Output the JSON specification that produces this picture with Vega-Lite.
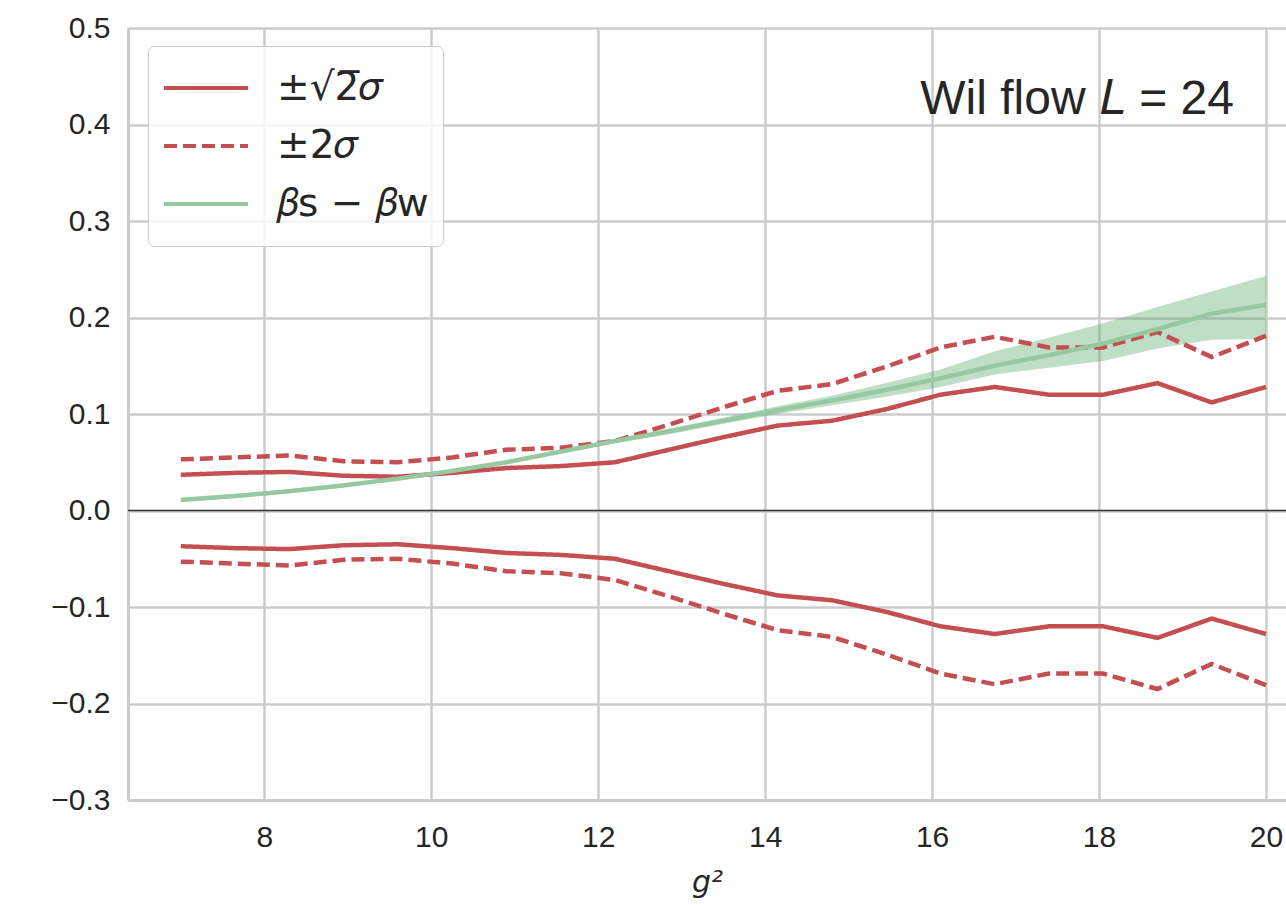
{
  "$schema": "https://vega.github.io/schema/vega-lite/v6.json",
  "width": 1158,
  "height": 772,
  "autosize": {"type": "none"},
  "padding": {"left": 128, "top": 28, "right": 0, "bottom": 105},
  "background": "white",
  "config": {
    "view": {"stroke": null},
    "font": "Liberation Sans",
    "axis": {
      "gridColor": "#cccccc",
      "gridWidth": 2.5,
      "domainColor": "#cccccc",
      "domainWidth": 3,
      "ticks": false,
      "tickSize": 0,
      "labelFont": "Liberation Sans",
      "labelFontSize": 30,
      "labelColor": "#262626",
      "titleColor": "#262626"
    },
    "legend": {
      "orient": "none",
      "legendX": 20,
      "legendY": 18,
      "padding": 14,
      "fillColor": "rgba(255,255,255,0.8)",
      "strokeColor": "#cccccc",
      "cornerRadius": 6,
      "symbolType": "stroke",
      "symbolSize": 7056,
      "symbolStrokeWidth": 4,
      "clipHeight": 56,
      "labelFont": "DejaVu Sans",
      "labelFontSize": 39,
      "labelColor": "#262626",
      "labelOffset": 27,
      "labelLimit": 500,
      "rowPadding": 2
    }
  },
  "datasets": {
    "lines": [
      {"g2": 7.0, "v": 0.037, "series": "±√2̅𝜎", "branch": "up"},
      {"g2": 7.65, "v": 0.039, "series": "±√2̅𝜎", "branch": "up"},
      {"g2": 8.3, "v": 0.040, "series": "±√2̅𝜎", "branch": "up"},
      {"g2": 8.95, "v": 0.036, "series": "±√2̅𝜎", "branch": "up"},
      {"g2": 9.6, "v": 0.035, "series": "±√2̅𝜎", "branch": "up"},
      {"g2": 10.25, "v": 0.039, "series": "±√2̅𝜎", "branch": "up"},
      {"g2": 10.9, "v": 0.044, "series": "±√2̅𝜎", "branch": "up"},
      {"g2": 11.55, "v": 0.046, "series": "±√2̅𝜎", "branch": "up"},
      {"g2": 12.2, "v": 0.050, "series": "±√2̅𝜎", "branch": "up"},
      {"g2": 12.85, "v": 0.063, "series": "±√2̅𝜎", "branch": "up"},
      {"g2": 13.5, "v": 0.076, "series": "±√2̅𝜎", "branch": "up"},
      {"g2": 14.15, "v": 0.088, "series": "±√2̅𝜎", "branch": "up"},
      {"g2": 14.8, "v": 0.093, "series": "±√2̅𝜎", "branch": "up"},
      {"g2": 15.45, "v": 0.105, "series": "±√2̅𝜎", "branch": "up"},
      {"g2": 16.1, "v": 0.120, "series": "±√2̅𝜎", "branch": "up"},
      {"g2": 16.75, "v": 0.128, "series": "±√2̅𝜎", "branch": "up"},
      {"g2": 17.4, "v": 0.120, "series": "±√2̅𝜎", "branch": "up"},
      {"g2": 18.05, "v": 0.120, "series": "±√2̅𝜎", "branch": "up"},
      {"g2": 18.7, "v": 0.132, "series": "±√2̅𝜎", "branch": "up"},
      {"g2": 19.35, "v": 0.112, "series": "±√2̅𝜎", "branch": "up"},
      {"g2": 20.0, "v": 0.128, "series": "±√2̅𝜎", "branch": "up"},
      {"g2": 7.0, "v": -0.037, "series": "±√2̅𝜎", "branch": "down"},
      {"g2": 7.65, "v": -0.039, "series": "±√2̅𝜎", "branch": "down"},
      {"g2": 8.3, "v": -0.040, "series": "±√2̅𝜎", "branch": "down"},
      {"g2": 8.95, "v": -0.036, "series": "±√2̅𝜎", "branch": "down"},
      {"g2": 9.6, "v": -0.035, "series": "±√2̅𝜎", "branch": "down"},
      {"g2": 10.25, "v": -0.039, "series": "±√2̅𝜎", "branch": "down"},
      {"g2": 10.9, "v": -0.044, "series": "±√2̅𝜎", "branch": "down"},
      {"g2": 11.55, "v": -0.046, "series": "±√2̅𝜎", "branch": "down"},
      {"g2": 12.2, "v": -0.050, "series": "±√2̅𝜎", "branch": "down"},
      {"g2": 12.85, "v": -0.063, "series": "±√2̅𝜎", "branch": "down"},
      {"g2": 13.5, "v": -0.076, "series": "±√2̅𝜎", "branch": "down"},
      {"g2": 14.15, "v": -0.088, "series": "±√2̅𝜎", "branch": "down"},
      {"g2": 14.8, "v": -0.093, "series": "±√2̅𝜎", "branch": "down"},
      {"g2": 15.45, "v": -0.105, "series": "±√2̅𝜎", "branch": "down"},
      {"g2": 16.1, "v": -0.120, "series": "±√2̅𝜎", "branch": "down"},
      {"g2": 16.75, "v": -0.128, "series": "±√2̅𝜎", "branch": "down"},
      {"g2": 17.4, "v": -0.120, "series": "±√2̅𝜎", "branch": "down"},
      {"g2": 18.05, "v": -0.120, "series": "±√2̅𝜎", "branch": "down"},
      {"g2": 18.7, "v": -0.132, "series": "±√2̅𝜎", "branch": "down"},
      {"g2": 19.35, "v": -0.112, "series": "±√2̅𝜎", "branch": "down"},
      {"g2": 20.0, "v": -0.128, "series": "±√2̅𝜎", "branch": "down"},
      {"g2": 7.0, "v": 0.053, "series": "±2𝜎", "branch": "up"},
      {"g2": 7.65, "v": 0.055, "series": "±2𝜎", "branch": "up"},
      {"g2": 8.3, "v": 0.057, "series": "±2𝜎", "branch": "up"},
      {"g2": 8.95, "v": 0.051, "series": "±2𝜎", "branch": "up"},
      {"g2": 9.6, "v": 0.050, "series": "±2𝜎", "branch": "up"},
      {"g2": 10.25, "v": 0.055, "series": "±2𝜎", "branch": "up"},
      {"g2": 10.9, "v": 0.063, "series": "±2𝜎", "branch": "up"},
      {"g2": 11.55, "v": 0.065, "series": "±2𝜎", "branch": "up"},
      {"g2": 12.2, "v": 0.072, "series": "±2𝜎", "branch": "up"},
      {"g2": 12.85, "v": 0.089, "series": "±2𝜎", "branch": "up"},
      {"g2": 13.5, "v": 0.107, "series": "±2𝜎", "branch": "up"},
      {"g2": 14.15, "v": 0.124, "series": "±2𝜎", "branch": "up"},
      {"g2": 14.8, "v": 0.131, "series": "±2𝜎", "branch": "up"},
      {"g2": 15.45, "v": 0.149, "series": "±2𝜎", "branch": "up"},
      {"g2": 16.1, "v": 0.169, "series": "±2𝜎", "branch": "up"},
      {"g2": 16.75, "v": 0.180, "series": "±2𝜎", "branch": "up"},
      {"g2": 17.4, "v": 0.169, "series": "±2𝜎", "branch": "up"},
      {"g2": 18.05, "v": 0.169, "series": "±2𝜎", "branch": "up"},
      {"g2": 18.7, "v": 0.185, "series": "±2𝜎", "branch": "up"},
      {"g2": 19.35, "v": 0.159, "series": "±2𝜎", "branch": "up"},
      {"g2": 20.0, "v": 0.181, "series": "±2𝜎", "branch": "up"},
      {"g2": 7.0, "v": -0.053, "series": "±2𝜎", "branch": "down"},
      {"g2": 7.65, "v": -0.055, "series": "±2𝜎", "branch": "down"},
      {"g2": 8.3, "v": -0.057, "series": "±2𝜎", "branch": "down"},
      {"g2": 8.95, "v": -0.051, "series": "±2𝜎", "branch": "down"},
      {"g2": 9.6, "v": -0.050, "series": "±2𝜎", "branch": "down"},
      {"g2": 10.25, "v": -0.055, "series": "±2𝜎", "branch": "down"},
      {"g2": 10.9, "v": -0.063, "series": "±2𝜎", "branch": "down"},
      {"g2": 11.55, "v": -0.065, "series": "±2𝜎", "branch": "down"},
      {"g2": 12.2, "v": -0.072, "series": "±2𝜎", "branch": "down"},
      {"g2": 12.85, "v": -0.089, "series": "±2𝜎", "branch": "down"},
      {"g2": 13.5, "v": -0.107, "series": "±2𝜎", "branch": "down"},
      {"g2": 14.15, "v": -0.124, "series": "±2𝜎", "branch": "down"},
      {"g2": 14.8, "v": -0.131, "series": "±2𝜎", "branch": "down"},
      {"g2": 15.45, "v": -0.149, "series": "±2𝜎", "branch": "down"},
      {"g2": 16.1, "v": -0.169, "series": "±2𝜎", "branch": "down"},
      {"g2": 16.75, "v": -0.180, "series": "±2𝜎", "branch": "down"},
      {"g2": 17.4, "v": -0.169, "series": "±2𝜎", "branch": "down"},
      {"g2": 18.05, "v": -0.169, "series": "±2𝜎", "branch": "down"},
      {"g2": 18.7, "v": -0.185, "series": "±2𝜎", "branch": "down"},
      {"g2": 19.35, "v": -0.159, "series": "±2𝜎", "branch": "down"},
      {"g2": 20.0, "v": -0.181, "series": "±2𝜎", "branch": "down"},
      {"g2": 7.0, "v": 0.011, "series": "𝛽ꜱ − 𝛽ᴡ", "branch": "mid"},
      {"g2": 7.65, "v": 0.015, "series": "𝛽ꜱ − 𝛽ᴡ", "branch": "mid"},
      {"g2": 8.3, "v": 0.020, "series": "𝛽ꜱ − 𝛽ᴡ", "branch": "mid"},
      {"g2": 8.95, "v": 0.026, "series": "𝛽ꜱ − 𝛽ᴡ", "branch": "mid"},
      {"g2": 9.6, "v": 0.033, "series": "𝛽ꜱ − 𝛽ᴡ", "branch": "mid"},
      {"g2": 10.25, "v": 0.041, "series": "𝛽ꜱ − 𝛽ᴡ", "branch": "mid"},
      {"g2": 10.9, "v": 0.050, "series": "𝛽ꜱ − 𝛽ᴡ", "branch": "mid"},
      {"g2": 11.55, "v": 0.061, "series": "𝛽ꜱ − 𝛽ᴡ", "branch": "mid"},
      {"g2": 12.2, "v": 0.072, "series": "𝛽ꜱ − 𝛽ᴡ", "branch": "mid"},
      {"g2": 12.85, "v": 0.082, "series": "𝛽ꜱ − 𝛽ᴡ", "branch": "mid"},
      {"g2": 13.5, "v": 0.093, "series": "𝛽ꜱ − 𝛽ᴡ", "branch": "mid"},
      {"g2": 14.15, "v": 0.104, "series": "𝛽ꜱ − 𝛽ᴡ", "branch": "mid"},
      {"g2": 14.8, "v": 0.114, "series": "𝛽ꜱ − 𝛽ᴡ", "branch": "mid"},
      {"g2": 15.45, "v": 0.125, "series": "𝛽ꜱ − 𝛽ᴡ", "branch": "mid"},
      {"g2": 16.1, "v": 0.137, "series": "𝛽ꜱ − 𝛽ᴡ", "branch": "mid"},
      {"g2": 16.75, "v": 0.150, "series": "𝛽ꜱ − 𝛽ᴡ", "branch": "mid"},
      {"g2": 17.4, "v": 0.161, "series": "𝛽ꜱ − 𝛽ᴡ", "branch": "mid"},
      {"g2": 18.05, "v": 0.173, "series": "𝛽ꜱ − 𝛽ᴡ", "branch": "mid"},
      {"g2": 18.7, "v": 0.188, "series": "𝛽ꜱ − 𝛽ᴡ", "branch": "mid"},
      {"g2": 19.35, "v": 0.204, "series": "𝛽ꜱ − 𝛽ᴡ", "branch": "mid"},
      {"g2": 20.0, "v": 0.213, "series": "𝛽ꜱ − 𝛽ᴡ", "branch": "mid"}
    ],
    "band": [
      {"g2": 7.0, "lo": 0.009, "hi": 0.013},
      {"g2": 7.65, "lo": 0.013, "hi": 0.017},
      {"g2": 8.3, "lo": 0.018, "hi": 0.022},
      {"g2": 8.95, "lo": 0.024, "hi": 0.028},
      {"g2": 9.6, "lo": 0.031, "hi": 0.035},
      {"g2": 10.25, "lo": 0.039, "hi": 0.043},
      {"g2": 10.9, "lo": 0.048, "hi": 0.052},
      {"g2": 11.55, "lo": 0.059, "hi": 0.063},
      {"g2": 12.2, "lo": 0.070, "hi": 0.074},
      {"g2": 12.85, "lo": 0.079, "hi": 0.085},
      {"g2": 13.5, "lo": 0.090, "hi": 0.096},
      {"g2": 14.15, "lo": 0.100, "hi": 0.108},
      {"g2": 14.8, "lo": 0.109, "hi": 0.119},
      {"g2": 15.45, "lo": 0.118, "hi": 0.132},
      {"g2": 16.1, "lo": 0.128, "hi": 0.146},
      {"g2": 16.75, "lo": 0.141, "hi": 0.165},
      {"g2": 17.4, "lo": 0.148, "hi": 0.179},
      {"g2": 18.05, "lo": 0.155, "hi": 0.194},
      {"g2": 18.7, "lo": 0.168, "hi": 0.211},
      {"g2": 19.35, "lo": 0.177, "hi": 0.227},
      {"g2": 20.0, "lo": 0.178, "hi": 0.243}
    ],
    "one": [{"label": "Wil flow 𝐿 = 24"}]
  },
  "layer": [
    {
      "data": {"name": "band"},
      "mark": {"type": "area", "color": "#55A868", "opacity": 0.38, "clip": true},
      "encoding": {
        "x": {
          "field": "g2",
          "type": "quantitative",
          "scale": {"domain": [6.367, 20.24], "nice": false, "zero": false},
          "axis": {
            "title": "g²",
            "titleFont": "DejaVu Sans",
            "titleFontStyle": "italic",
            "titleFontWeight": "normal",
            "titleFontSize": 30,
            "titlePadding": 15,
            "values": [8, 10, 12, 14, 16, 18, 20],
            "format": "d",
            "labelPadding": 22,
            "grid": true
          }
        },
        "y": {
          "field": "lo",
          "type": "quantitative",
          "scale": {"domain": [-0.3, 0.5], "nice": false, "zero": false},
          "axis": {
            "title": null,
            "values": [-0.3, -0.2, -0.1, 0, 0.1, 0.2, 0.3, 0.4, 0.5],
            "labelExpr": "replace(format(datum.value, '.1f'), '-', '−')",
            "labelPadding": 18,
            "grid": true
          }
        },
        "y2": {"field": "hi"}
      }
    },
    {
      "data": {"name": "one"},
      "mark": {"type": "rule", "color": "#333333", "strokeWidth": 1.5},
      "encoding": {"y": {"datum": 0}}
    },
    {
      "data": {"name": "lines"},
      "mark": {"type": "line", "strokeWidth": 4.5, "clip": true},
      "encoding": {
        "x": {"field": "g2", "type": "quantitative"},
        "y": {"field": "v", "type": "quantitative"},
        "color": {
          "field": "series",
          "type": "nominal",
          "scale": {"domain": ["±√2̅𝜎", "±2𝜎", "𝛽ꜱ − 𝛽ᴡ"], "range": ["#C44E52", "#C44E52", "#96c9a1"]},
          "legend": {"title": null}
        },
        "strokeDash": {
          "field": "series",
          "type": "nominal",
          "scale": {"domain": ["±√2̅𝜎", "±2𝜎", "𝛽ꜱ − 𝛽ᴡ"], "range": [[1, 0], [13, 6], [1, 0]]},
          "legend": {"title": null}
        },
        "detail": {"field": "branch"}
      }
    },
    {
      "data": {"name": "one"},
      "mark": {"type": "text", "align": "right", "baseline": "alphabetic", "font": "Liberation Sans", "fontSize": 48, "color": "#262626"},
      "encoding": {
        "x": {"datum": 19.617},
        "y": {"datum": 0.411},
        "text": {"field": "label"}
      }
    }
  ]
}
